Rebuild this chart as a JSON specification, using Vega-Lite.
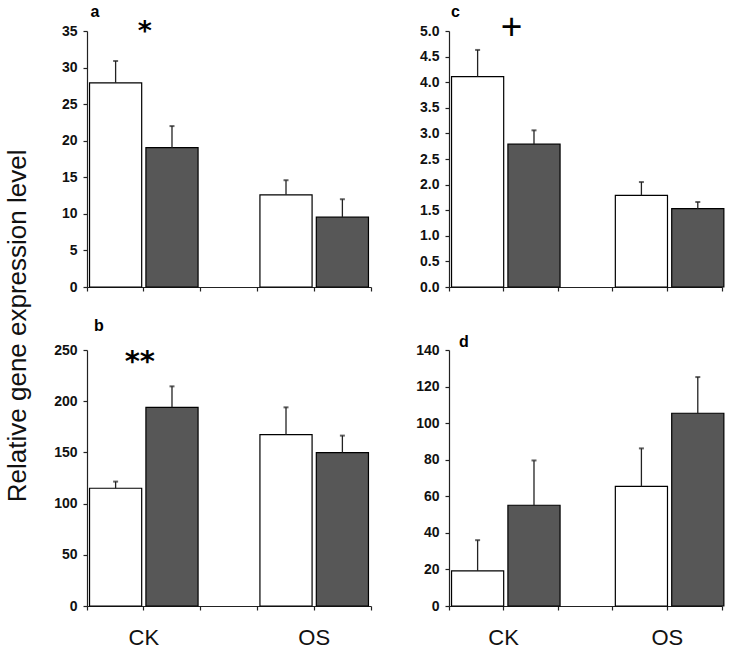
{
  "$schema": "https://vega.github.io/schema/vega-lite/v6.json",
  "padding": {"left": 4, "top": 3, "right": 5, "bottom": 5},
  "background": "white",
  "datasets": {
    "bars": [
      {"panel": "a", "group": "CK", "treatment": "open", "value": 27.9, "err": 30.9},
      {"panel": "a", "group": "CK", "treatment": "filled", "value": 19.05, "err": 22.0},
      {"panel": "a", "group": "OS", "treatment": "open", "value": 12.6, "err": 14.6},
      {"panel": "a", "group": "OS", "treatment": "filled", "value": 9.55, "err": 12.0},
      {"panel": "b", "group": "CK", "treatment": "open", "value": 115, "err": 121.5},
      {"panel": "b", "group": "CK", "treatment": "filled", "value": 194, "err": 214.5},
      {"panel": "b", "group": "OS", "treatment": "open", "value": 167.4, "err": 194},
      {"panel": "b", "group": "OS", "treatment": "filled", "value": 149.8, "err": 166.4},
      {"panel": "c", "group": "CK", "treatment": "open", "value": 4.11, "err": 4.63},
      {"panel": "c", "group": "CK", "treatment": "filled", "value": 2.79, "err": 3.06},
      {"panel": "c", "group": "OS", "treatment": "open", "value": 1.79, "err": 2.05},
      {"panel": "c", "group": "OS", "treatment": "filled", "value": 1.53, "err": 1.66},
      {"panel": "d", "group": "CK", "treatment": "open", "value": 19.2, "err": 36.0},
      {"panel": "d", "group": "CK", "treatment": "filled", "value": 55.1, "err": 79.6},
      {"panel": "d", "group": "OS", "treatment": "open", "value": 65.4, "err": 86.2},
      {"panel": "d", "group": "OS", "treatment": "filled", "value": 105.4, "err": 125.2}
    ],
    "notes": [
      {"panel": "a", "group": "CK", "y": 35.5, "label": "*"},
      {"panel": "b", "group": "CK", "y": 243, "label": "**"},
      {"panel": "c", "group": "CK", "y": 5.06, "label": "+"}
    ],
    "letters": [
      {"panel": "a", "group": "CK", "y": 36.95, "label": "a"},
      {"panel": "b", "group": "CK", "y": 268.5, "label": "b"},
      {"panel": "c", "group": "CK", "y": 5.27, "label": "c"},
      {"panel": "d", "group": "CK", "y": 141.7, "label": "d"}
    ]
  },
  "title": {
    "text": "Relative gene expression level",
    "orient": "left",
    "anchor": "middle",
    "frame": "bounds",
    "font": "Liberation Sans",
    "fontSize": 26,
    "fontWeight": "normal",
    "color": "#111111",
    "offset": 2,
    "baseline": "alphabetic"
  },
  "columns": 2,
  "spacing": {"row": 24, "column": 43},
  "concat": [
    {
      "width": 284, "height": 256,
      "layer": [
        {
          "data": {"name": "bars"},
          "transform": [{"filter": "datum.panel === 'a'"}],
          "mark": {"type": "bar", "stroke": "black", "strokeWidth": 1.2},
          "encoding": {
            "x": {"field": "group", "type": "nominal", "sort": ["CK", "OS"], "scale": {"paddingInner": 0.3333, "paddingOuter": 0}, "axis": {"orient": "bottom", "labels": false, "title": null, "bandPosition": 0.5}},
            "xOffset": {"field": "treatment", "type": "nominal", "sort": ["open", "filled"], "scale": {"paddingInner": 0.075, "paddingOuter": 0.045}},
            "y": {"field": "value", "type": "quantitative", "scale": {"domain": [0, 35], "nice": false}, "axis": {"values": [0, 5, 10, 15, 20, 25, 30, 35], "title": null}},
            "fill": {"field": "treatment", "type": "nominal", "scale": {"domain": ["open", "filled"], "range": ["#ffffff", "#575757"]}, "legend": null}
          }
        },
        {
          "data": {"name": "bars"},
          "transform": [{"filter": "datum.panel === 'a'"}],
          "mark": {"type": "rule", "color": "#222222", "strokeWidth": 1.3},
          "encoding": {
            "x": {"field": "group", "type": "nominal", "sort": ["CK", "OS"], "axis": {"orient": "bottom", "labels": false, "domain": false, "title": null, "bandPosition": 0}},
            "xOffset": {"field": "treatment", "type": "nominal", "sort": ["open", "filled"]},
            "y": {"field": "value", "type": "quantitative", "axis": {"values": [0, 5, 10, 15, 20, 25, 30, 35], "title": null}},
            "y2": {"field": "err"}
          }
        },
        {
          "data": {"name": "bars"},
          "transform": [{"filter": "datum.panel === 'a'"}],
          "mark": {"type": "tick", "color": "#222222", "size": 5, "thickness": 2},
          "encoding": {
            "x": {"field": "group", "type": "nominal", "sort": ["CK", "OS"], "axis": {"orient": "bottom", "labels": false, "domain": false, "title": null, "bandPosition": 1}},
            "xOffset": {"field": "treatment", "type": "nominal", "sort": ["open", "filled"]},
            "y": {"field": "err", "type": "quantitative", "axis": {"values": [0, 5, 10, 15, 20, 25, 30, 35], "title": null}}
          }
        },
        {
          "data": {"name": "notes"},
          "transform": [{"filter": "datum.panel === 'a'"}],
          "mark": {"type": "text", "font": "DejaVu Sans", "fontWeight": "bold", "fontSize": 27, "baseline": "middle", "dx": 1, "dy": 5},
          "encoding": {
            "x": {"field": "group", "type": "nominal", "axis": null},
            "y": {"field": "y", "type": "quantitative", "axis": {"values": [0, 5, 10, 15, 20, 25, 30, 35], "title": null}},
            "text": {"field": "label"}
          }
        },
        {
          "data": {"name": "letters"},
          "transform": [{"filter": "datum.panel === 'a'"}],
          "mark": {"type": "text", "font": "Liberation Sans", "fontWeight": "bold", "fontSize": 16, "align": "left", "baseline": "alphabetic", "dx": 3.5},
          "encoding": {
            "x": {"field": "group", "type": "nominal", "bandPosition": 0, "axis": null},
            "y": {"field": "y", "type": "quantitative", "axis": {"values": [0, 5, 10, 15, 20, 25, 30, 35], "title": null}},
            "text": {"field": "label"}
          }
        }
      ],
      "resolve": {"axis": {"x": "independent"}}
    },
    {
      "width": 273, "height": 256,
      "layer": [
        {
          "data": {"name": "bars"},
          "transform": [{"filter": "datum.panel === 'c'"}],
          "mark": {"type": "bar", "stroke": "black", "strokeWidth": 1.2},
          "encoding": {
            "x": {"field": "group", "type": "nominal", "sort": ["CK", "OS"], "scale": {"paddingInner": 0.3333, "paddingOuter": 0}, "axis": {"orient": "bottom", "labels": false, "title": null, "bandPosition": 0.5}},
            "xOffset": {"field": "treatment", "type": "nominal", "sort": ["open", "filled"], "scale": {"paddingInner": 0.085, "paddingOuter": 0.035}},
            "y": {"field": "value", "type": "quantitative", "scale": {"domain": [0, 5], "nice": false}, "axis": {"values": [0, 0.5, 1, 1.5, 2, 2.5, 3, 3.5, 4, 4.5, 5], "format": ".1f", "title": null}},
            "fill": {"field": "treatment", "type": "nominal", "scale": {"domain": ["open", "filled"], "range": ["#ffffff", "#575757"]}, "legend": null}
          }
        },
        {
          "data": {"name": "bars"},
          "transform": [{"filter": "datum.panel === 'c'"}],
          "mark": {"type": "rule", "color": "#222222", "strokeWidth": 1.3},
          "encoding": {
            "x": {"field": "group", "type": "nominal", "sort": ["CK", "OS"], "axis": {"orient": "bottom", "labels": false, "domain": false, "title": null, "bandPosition": 0}},
            "xOffset": {"field": "treatment", "type": "nominal", "sort": ["open", "filled"]},
            "y": {"field": "value", "type": "quantitative", "axis": {"values": [0, 0.5, 1, 1.5, 2, 2.5, 3, 3.5, 4, 4.5, 5], "format": ".1f", "title": null}},
            "y2": {"field": "err"}
          }
        },
        {
          "data": {"name": "bars"},
          "transform": [{"filter": "datum.panel === 'c'"}],
          "mark": {"type": "tick", "color": "#222222", "size": 5, "thickness": 2},
          "encoding": {
            "x": {"field": "group", "type": "nominal", "sort": ["CK", "OS"], "axis": {"orient": "bottom", "labels": false, "domain": false, "title": null, "bandPosition": 1}},
            "xOffset": {"field": "treatment", "type": "nominal", "sort": ["open", "filled"]},
            "y": {"field": "err", "type": "quantitative", "axis": {"values": [0, 0.5, 1, 1.5, 2, 2.5, 3, 3.5, 4, 4.5, 5], "format": ".1f", "title": null}}
          }
        },
        {
          "data": {"name": "notes"},
          "transform": [{"filter": "datum.panel === 'c'"}],
          "mark": {"type": "text", "font": "Liberation Sans", "fontWeight": "normal", "fontSize": 37, "baseline": "middle", "dx": 8, "dy": 0},
          "encoding": {
            "x": {"field": "group", "type": "nominal", "axis": null},
            "y": {"field": "y", "type": "quantitative", "axis": {"values": [0, 0.5, 1, 1.5, 2, 2.5, 3, 3.5, 4, 4.5, 5], "format": ".1f", "title": null}},
            "text": {"field": "label"}
          }
        },
        {
          "data": {"name": "letters"},
          "transform": [{"filter": "datum.panel === 'c'"}],
          "mark": {"type": "text", "font": "Liberation Sans", "fontWeight": "bold", "fontSize": 16, "align": "left", "baseline": "alphabetic", "dx": 2},
          "encoding": {
            "x": {"field": "group", "type": "nominal", "bandPosition": 0, "axis": null},
            "y": {"field": "y", "type": "quantitative", "axis": {"values": [0, 0.5, 1, 1.5, 2, 2.5, 3, 3.5, 4, 4.5, 5], "format": ".1f", "title": null}},
            "text": {"field": "label"}
          }
        }
      ],
      "resolve": {"axis": {"x": "independent"}}
    },
    {
      "width": 284, "height": 256,
      "layer": [
        {
          "data": {"name": "bars"},
          "transform": [{"filter": "datum.panel === 'b'"}],
          "mark": {"type": "bar", "stroke": "black", "strokeWidth": 1.2},
          "encoding": {
            "x": {"field": "group", "type": "nominal", "sort": ["CK", "OS"], "scale": {"paddingInner": 0.3333, "paddingOuter": 0}, "axis": {"orient": "bottom", "labels": true, "title": null, "bandPosition": 0.5}},
            "xOffset": {"field": "treatment", "type": "nominal", "sort": ["open", "filled"], "scale": {"paddingInner": 0.075, "paddingOuter": 0.045}},
            "y": {"field": "value", "type": "quantitative", "scale": {"domain": [0, 250], "nice": false}, "axis": {"values": [0, 50, 100, 150, 200, 250], "title": null}},
            "fill": {"field": "treatment", "type": "nominal", "scale": {"domain": ["open", "filled"], "range": ["#ffffff", "#575757"]}, "legend": null}
          }
        },
        {
          "data": {"name": "bars"},
          "transform": [{"filter": "datum.panel === 'b'"}],
          "mark": {"type": "rule", "color": "#222222", "strokeWidth": 1.3},
          "encoding": {
            "x": {"field": "group", "type": "nominal", "sort": ["CK", "OS"], "axis": {"orient": "bottom", "labels": false, "domain": false, "title": null, "bandPosition": 0}},
            "xOffset": {"field": "treatment", "type": "nominal", "sort": ["open", "filled"]},
            "y": {"field": "value", "type": "quantitative", "axis": {"values": [0, 50, 100, 150, 200, 250], "title": null}},
            "y2": {"field": "err"}
          }
        },
        {
          "data": {"name": "bars"},
          "transform": [{"filter": "datum.panel === 'b'"}],
          "mark": {"type": "tick", "color": "#222222", "size": 5, "thickness": 2},
          "encoding": {
            "x": {"field": "group", "type": "nominal", "sort": ["CK", "OS"], "axis": {"orient": "bottom", "labels": false, "domain": false, "title": null, "bandPosition": 1}},
            "xOffset": {"field": "treatment", "type": "nominal", "sort": ["open", "filled"]},
            "y": {"field": "err", "type": "quantitative", "axis": {"values": [0, 50, 100, 150, 200, 250], "title": null}}
          }
        },
        {
          "data": {"name": "notes"},
          "transform": [{"filter": "datum.panel === 'b'"}],
          "mark": {"type": "text", "font": "DejaVu Sans", "fontWeight": "bold", "fontSize": 29, "baseline": "middle", "dx": -4, "dy": 5},
          "encoding": {
            "x": {"field": "group", "type": "nominal", "axis": null},
            "y": {"field": "y", "type": "quantitative", "axis": {"values": [0, 50, 100, 150, 200, 250], "title": null}},
            "text": {"field": "label"}
          }
        },
        {
          "data": {"name": "letters"},
          "transform": [{"filter": "datum.panel === 'b'"}],
          "mark": {"type": "text", "font": "Liberation Sans", "fontWeight": "bold", "fontSize": 16, "align": "left", "baseline": "alphabetic", "dx": 7},
          "encoding": {
            "x": {"field": "group", "type": "nominal", "bandPosition": 0, "axis": null},
            "y": {"field": "y", "type": "quantitative", "axis": {"values": [0, 50, 100, 150, 200, 250], "title": null}},
            "text": {"field": "label"}
          }
        }
      ],
      "resolve": {"axis": {"x": "independent"}}
    },
    {
      "width": 273, "height": 256,
      "layer": [
        {
          "data": {"name": "bars"},
          "transform": [{"filter": "datum.panel === 'd'"}],
          "mark": {"type": "bar", "stroke": "black", "strokeWidth": 1.2},
          "encoding": {
            "x": {"field": "group", "type": "nominal", "sort": ["CK", "OS"], "scale": {"paddingInner": 0.3333, "paddingOuter": 0}, "axis": {"orient": "bottom", "labels": true, "title": null, "bandPosition": 0.5}},
            "xOffset": {"field": "treatment", "type": "nominal", "sort": ["open", "filled"], "scale": {"paddingInner": 0.085, "paddingOuter": 0.035}},
            "y": {"field": "value", "type": "quantitative", "scale": {"domain": [0, 140], "nice": false}, "axis": {"values": [0, 20, 40, 60, 80, 100, 120, 140], "title": null}},
            "fill": {"field": "treatment", "type": "nominal", "scale": {"domain": ["open", "filled"], "range": ["#ffffff", "#575757"]}, "legend": null}
          }
        },
        {
          "data": {"name": "bars"},
          "transform": [{"filter": "datum.panel === 'd'"}],
          "mark": {"type": "rule", "color": "#222222", "strokeWidth": 1.3},
          "encoding": {
            "x": {"field": "group", "type": "nominal", "sort": ["CK", "OS"], "axis": {"orient": "bottom", "labels": false, "domain": false, "title": null, "bandPosition": 0}},
            "xOffset": {"field": "treatment", "type": "nominal", "sort": ["open", "filled"]},
            "y": {"field": "value", "type": "quantitative", "axis": {"values": [0, 20, 40, 60, 80, 100, 120, 140], "title": null}},
            "y2": {"field": "err"}
          }
        },
        {
          "data": {"name": "bars"},
          "transform": [{"filter": "datum.panel === 'd'"}],
          "mark": {"type": "tick", "color": "#222222", "size": 5, "thickness": 2},
          "encoding": {
            "x": {"field": "group", "type": "nominal", "sort": ["CK", "OS"], "axis": {"orient": "bottom", "labels": false, "domain": false, "title": null, "bandPosition": 1}},
            "xOffset": {"field": "treatment", "type": "nominal", "sort": ["open", "filled"]},
            "y": {"field": "err", "type": "quantitative", "axis": {"values": [0, 20, 40, 60, 80, 100, 120, 140], "title": null}}
          }
        },
        {
          "data": {"name": "letters"},
          "transform": [{"filter": "datum.panel === 'd'"}],
          "mark": {"type": "text", "font": "Liberation Sans", "fontWeight": "bold", "fontSize": 16, "align": "left", "baseline": "alphabetic", "dx": 10},
          "encoding": {
            "x": {"field": "group", "type": "nominal", "bandPosition": 0, "axis": null},
            "y": {"field": "y", "type": "quantitative", "axis": {"values": [0, 20, 40, 60, 80, 100, 120, 140], "title": null}},
            "text": {"field": "label"}
          }
        }
      ],
      "resolve": {"axis": {"x": "independent"}}
    }
  ],
  "config": {
    "view": {"stroke": null},
    "font": "Liberation Sans",
    "axis": {
      "grid": false,
      "domainColor": "#222222",
      "domainWidth": 1.2,
      "tickColor": "#222222",
      "tickSize": 4,
      "tickWidth": 1.2,
      "labelFont": "Liberation Sans",
      "labelColor": "#111111",
      "labelOverlap": false
    },
    "axisY": {
      "labelFontSize": 14,
      "labelFontWeight": "bold",
      "labelPadding": 6,
      "minExtent": 32,
      "maxExtent": 32
    },
    "axisX": {
      "labelFontSize": 22,
      "labelFontWeight": "normal",
      "labelAngle": 0,
      "labelPadding": 17,
      "labelBaseline": "top",
      "minExtent": 4,
      "maxExtent": 4
    }
  }
}
